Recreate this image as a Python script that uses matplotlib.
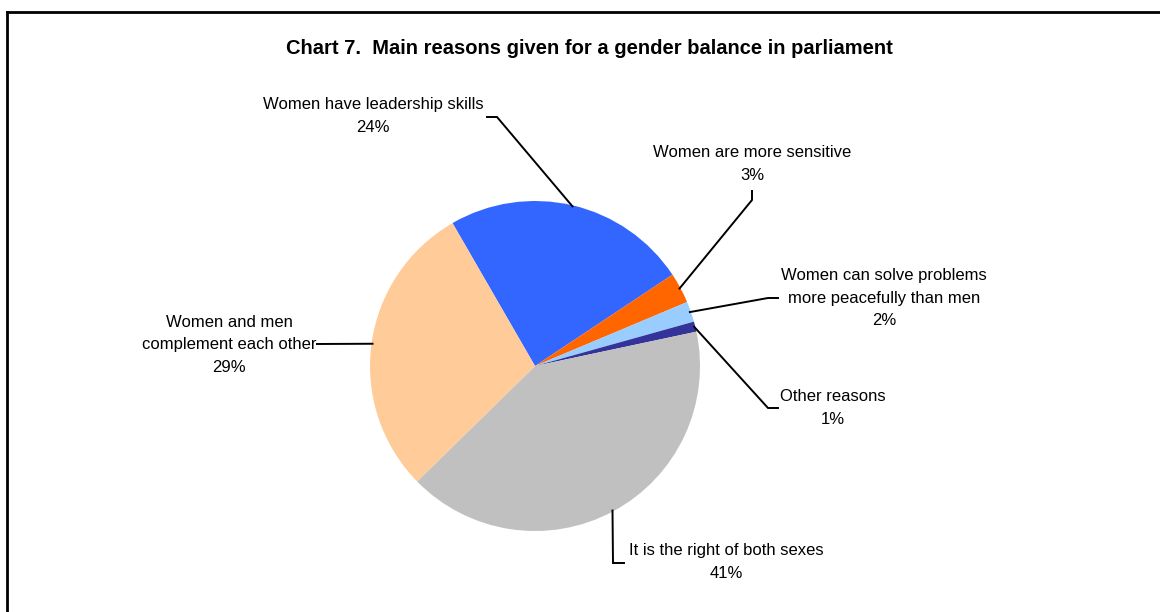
import numpy as np
import matplotlib.pyplot as plt
from matplotlib.lines import Line2D

plt.rcParams['font.family'] = ['Liberation Sans', 'DejaVu Sans']

# Survey shares, clockwise from the upper-left boundary
labels = [
    "Women have leadership skills",
    "Women are more sensitive",
    "Women can solve problems\nmore peacefully than men",
    "Other reasons",
    "It is the right of both sexes",
    "Women and men\ncomplement each other",
]
shares = [24, 3, 2, 1, 41, 29]
colors = ["#3366FF", "#FF6600", "#99CCFF", "#333399", "#C0C0C0", "#FFCC99"]

W, H = 1160, 612
fig = plt.figure(figsize=(W / 100, H / 100), dpi=100)
ax = fig.add_axes([0, 0, 1, 1])

# Work in pixel-like units: x to the right, y measured from the top
def Y(y):
    return H - y

cx, cy, R = 535, 366, 165
start = 120
wedges, _ = ax.pie(shares, colors=colors, startangle=start, counterclock=False,
                   center=(cx, Y(cy)), radius=R,
                   wedgeprops=dict(linewidth=0))
ax.set_xlim(0, W)
ax.set_ylim(0, H)
ax.set_aspect('auto')
ax.axis('off')

# Mid-angle of each wedge for the leader lines
total = sum(shares)
cum = np.cumsum([0] + shares)
mids = [start - 360 * (cum[i] + shares[i] / 2) / total for i in range(len(shares))]

def edge_point(i, r=R):
    a = np.deg2rad(mids[i])
    return cx + r * np.cos(a), cy - r * np.sin(a)

# (elbow, end of leader, text centre)
callouts = [
    ((497, 117), (487, 117), (373, 116)),
    ((752, 200), (752, 191), (752, 164)),
    ((768, 298), (778, 298), (884, 298)),
    ((768, 408), (778, 408), (833, 408)),
    ((613, 563), (624, 563), (726, 562)),
    ((317, 344), (317, 344), (229, 345)),
]

for i, ((ex, ey), (tx, ty), (lx, ly)) in enumerate(callouts):
    px, py = edge_point(i, R - 1)
    ax.plot([px, ex, tx], [Y(py), Y(ey), Y(ty)], color="black", lw=1.4,
            solid_joinstyle='miter')
    ax.text(lx, Y(ly), f"{labels[i]}\n{shares[i]}%", ha="center", va="center",
            fontsize=12, linespacing=1.62, color="black")

ax.text(589, Y(49), "Chart 7.  Main reasons given for a gender balance in parliament",
        ha="center", va="center", fontsize=14.5, fontweight="bold", color="black")

# Chart frame
fig.add_artist(Line2D([7 / W, 7 / W], [0, 1 - 12 / H], transform=fig.transFigure,
                      color="black", lw=2))
fig.add_artist(Line2D([7 / W, 1], [1 - 12 / H, 1 - 12 / H], transform=fig.transFigure,
                      color="black", lw=2))

fig.savefig("out.png", dpi=100)
